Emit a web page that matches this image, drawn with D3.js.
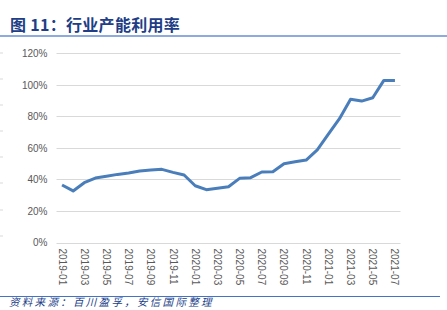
<!DOCTYPE html>
<html>
<head>
<meta charset="utf-8">
<script src="https://cdn.jsdelivr.net/npm/d3@7"></script>
<style>
  body { margin: 0; background: #fff; }
  svg { display: block; }
</style>
</head>
<body>
<div id="chart"></div>
<script>
// monthly categories 2019-01 .. 2021-07
var months = ["2019-01","2019-02","2019-03","2019-04","2019-05","2019-06","2019-07","2019-08",
  "2019-09","2019-10","2019-11","2019-12","2020-01","2020-02","2020-03","2020-04","2020-05",
  "2020-06","2020-07","2020-08","2020-09","2020-10","2020-11","2020-12","2021-01","2021-02",
  "2021-03","2021-04","2021-05","2021-06","2021-07"];

// capacity utilisation, %
var utilisation = [36.5, 32.7, 37.9, 40.9, 42.0, 43.2, 44.1, 45.3, 46.0, 46.4, 44.5, 42.8,
  36.0, 33.5, 34.4, 35.4, 40.7, 41.1, 44.7, 44.9, 50.0, 51.2, 52.3, 58.7, 68.8, 78.5,
  90.8, 89.7, 91.8, 102.8, 102.8];

var yTicks = [0, 20, 40, 60, 80, 100, 120];
var xTickLabels = ["2019-01","2019-03","2019-05","2019-07","2019-09","2019-11","2020-01",
  "2020-03","2020-05","2020-07","2020-09","2020-11","2021-01","2021-03","2021-05","2021-07"];

var W = 447, H = 310;

var svg = d3.select("#chart")
  .append("svg")
    .attr("width", W)
    .attr("height", H);

// title
svg.append("text")
  .attr("x", 10)
  .attr("y", 31)
  .attr("fill", "#203d86")
  .style("font-family", "'Noto Sans CJK SC', sans-serif")
  .style("font-size", "16px")
  .style("font-weight", "bold")
  .style("letter-spacing", "0.3px")
  .text("图 11：行业产能利用率");

svg.append("line")
  .attr("x1", 0).attr("x2", W)
  .attr("y1", 36).attr("y2", 36)
  .attr("stroke", "#8faadc")
  .attr("stroke-width", 2);

// faint marks at the left edge
[53, 79, 105, 131, 157, 183, 210, 236].forEach(function(yy) {
  svg.append("line")
    .attr("x1", 0).attr("x2", 3)
    .attr("y1", yy).attr("y2", yy)
    .attr("stroke", "#d9d9d9");
});

var x = d3.scaleBand()
  .domain(months)
  .range([56.5, 400.5]);

var y = d3.scaleLinear()
  .domain([0, 120])
  .range([242.5, 53.3]);

// gridlines
svg.append("g")
  .selectAll("line")
  .data(yTicks)
  .enter()
  .append("line")
    .attr("x1", 56.5)
    .attr("x2", 400.5)
    .attr("y1", function(d) { return Math.round(y(d)) + 0.5; })
    .attr("y2", function(d) { return Math.round(y(d)) + 0.5; })
    .attr("stroke", "#d9d9d9")
    .attr("stroke-width", 1);

// y axis labels
var yAxis = svg.append("g")
  .attr("transform", "translate(56.5,0)")
  .call(d3.axisLeft(y).tickValues(yTicks).tickSize(0).tickPadding(9)
    .tickFormat(function(d) { return d + "%"; }));
yAxis.select(".domain").remove();
yAxis.selectAll("text")
  .attr("fill", "#595959")
  .style("font-family", "'Liberation Sans', Arial, sans-serif")
  .style("font-size", "10px");

// x axis labels, rotated
var xAxis = svg.append("g")
  .attr("transform", "translate(0,242.5)")
  .call(d3.axisBottom(x).tickValues(xTickLabels).tickSize(0));
xAxis.select(".domain").remove();
xAxis.selectAll("text")
  .attr("fill", "#595959")
  .attr("transform", "rotate(90)")
  .attr("x", 6)
  .attr("y", 0)
  .attr("dy", "0.35em")
  .style("text-anchor", "start")
  .style("font-family", "'Liberation Sans', Arial, sans-serif")
  .style("font-size", "10px");

// line
var line = d3.line()
  .x(function(d, i) { return x(months[i]) + x.bandwidth() / 2; })
  .y(function(d) { return y(d); });

svg.append("path")
  .datum(utilisation)
  .attr("d", line)
  .attr("fill", "none")
  .attr("stroke", "#4a7ebb")
  .attr("stroke-width", 3)
  .attr("stroke-linejoin", "round");

// bottom rule + source
svg.append("line")
  .attr("x1", 0).attr("x2", 440)
  .attr("y1", 296.5).attr("y2", 296.5)
  .attr("stroke", "#4472c4")
  .attr("stroke-width", 1);

svg.append("text")
  .attr("x", 9)
  .attr("y", 306)
  .attr("fill", "#203d86")
  .style("font-family", "'Noto Sans CJK SC', sans-serif")
  .style("font-size", "10.5px")
  .style("font-style", "italic")
  .style("letter-spacing", "2.3px")
  .text("资料来源：百川盈孚，安信国际整理");
</script>
</body>
</html>
